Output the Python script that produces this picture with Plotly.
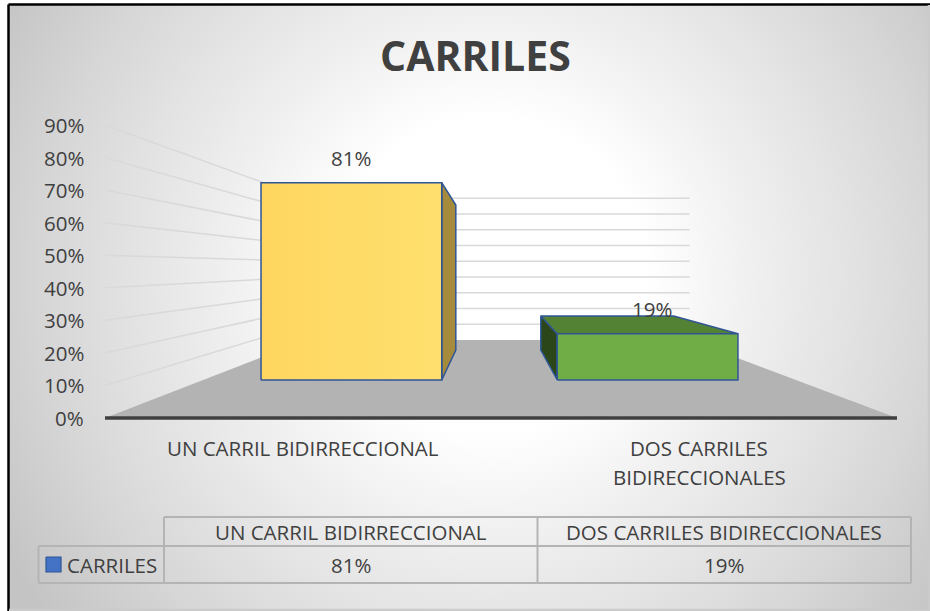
import base64
import plotly.graph_objects as go

# ---- data ----
categories = ["UN CARRIL BIDIRRECCIONAL", "DOS CARRILES BIDIRECCIONALES"]
axis_labels = ["UN CARRIL BIDIRRECCIONAL", "DOS CARRILES\nBIDIRECCIONALES"]
series_name = "CARRILES"
values = [0.81, 0.19]
tick_values = [0.0, 0.1, 0.2, 0.3, 0.4, 0.5, 0.6, 0.7, 0.8, 0.9]

# ---- canvas / perspective setup (pixel-space axes) ----
W, H = 930, 611
VX, VY = 495.0, 267.0          # vanishing point
FLOOR_LEFT, FLOOR_RIGHT = 105.0, 897.0
BASE_Y = 418.0                 # 0% on the front edge
UNIT = 325.6                   # pixels per 1.0 (100%) on the front plane
DEPTH_K = 1.066                # perspective shrink factor along depth
BAR_Z = (0.316, 0.767)         # bar depth span (0 = front, 1 = back wall)
BAR_FRAC = 0.61                # bar width / category width

TEXT = "#404040"
FONT = "Open Sans"
FS = 20.5
EDGE = "#2F5597"
FRONT_COLORS = ["#FFD966", "#70AD47"]
SIDE_COLORS = ["#A68B3D", "#2B4719"]
TOP_COLORS = ["#C9A74A", "#548235"]


def proj(x, v, z):
    f = 1.0 / (1.0 + DEPTH_K * z)
    return VX + (x - VX) * f, VY + ((BASE_Y - v * UNIT) - VY) * f


fig = go.Figure()


def poly(pts, fill, line_color=None, line_width=0.0, gradient=None):
    xs = [p[0] for p in pts] + [pts[0][0]]
    ys = [p[1] for p in pts] + [pts[0][1]]
    kw = dict(x=xs, y=ys, mode="lines", fill="toself",
              line=dict(color=line_color or fill, width=line_width),
              hoverinfo="skip", showlegend=False)
    if gradient is not None:
        kw["fillgradient"] = gradient
    else:
        kw["fillcolor"] = fill
    fig.add_trace(go.Scatter(**kw))


def segments(segs, color, width):
    xs, ys = [], []
    for (a, b) in segs:
        xs += [a[0], b[0], None]
        ys += [a[1], b[1], None]
    fig.add_trace(go.Scatter(x=xs, y=ys, mode="lines",
                             line=dict(color=color, width=width),
                             hoverinfo="skip", showlegend=False))


# chart area background: soft radial gradient inside the frame
bg_svg = (
    "<svg xmlns='http://www.w3.org/2000/svg' width='930' height='611'>"
    "<defs><radialGradient id='g' gradientUnits='userSpaceOnUse' "
    "cx='490' cy='275' r='560'>"
    "<stop offset='0' stop-color='#ffffff'/>"
    "<stop offset='0.28' stop-color='#ffffff'/>"
    "<stop offset='0.45' stop-color='#f1f1f1'/>"
    "<stop offset='0.65' stop-color='#e2e2e2'/>"
    "<stop offset='0.8' stop-color='#d6d6d6'/>"
    "<stop offset='1' stop-color='#c4c4c4'/>"
    "</radialGradient></defs>"
    "<rect x='8' y='4' width='922' height='607' fill='url(#g)'/></svg>"
)
bg_src = "data:image/svg+xml;base64," + base64.b64encode(bg_svg.encode()).decode()
fig.add_layout_image(source=bg_src, xref="paper", yref="paper", x=0, y=1,
                     sizex=1, sizey=1, xanchor="left", yanchor="top",
                     sizing="stretch", layer="below")
# frame: dark on the left and top, background-toned on the right and bottom
segments([((8.5, 4.5), (8.5, H)), ((8.5, 4.5), (W, 4.5))], "#000000", 2.5)
segments([((W - 1, 5), (W - 1, H)), ((9, H - 1), (W, H - 1))], "#cbcbcb", 2.5)

# gridlines on the side wall and the back wall
grid = []
for t in tick_values[1:]:
    grid.append((proj(FLOOR_LEFT, t, 0), proj(FLOOR_LEFT, t, 1)))
    grid.append((proj(FLOOR_LEFT, t, 1), proj(FLOOR_RIGHT, t, 1)))
segments(grid, "#d9d9d9", 1.5)

# floor
poly([proj(FLOOR_LEFT, 0, 0), proj(FLOOR_RIGHT, 0, 0),
      proj(FLOOR_RIGHT, 0, 1), proj(FLOOR_LEFT, 0, 1)], "#b3b3b3")
segments([(proj(FLOOR_LEFT, 0, 0), proj(FLOOR_RIGHT, 0, 0))], "#404040", 3.5)

# 3-D columns
cat_w = (FLOOR_RIGHT - FLOOR_LEFT) / len(categories)
bw = cat_w * BAR_FRAC
z0, z1 = BAR_Z
for i, v in enumerate(values):
    cx = FLOOR_LEFT + (i + 0.5) * cat_w
    x0, x1 = cx - bw / 2, cx + bw / 2
    if x1 < VX:
        poly([proj(x1, 0, z0), proj(x1, 0, z1), proj(x1, v, z1), proj(x1, v, z0)],
             SIDE_COLORS[i], EDGE, 1.5)
    if x0 > VX:
        poly([proj(x0, 0, z0), proj(x0, 0, z1), proj(x0, v, z1), proj(x0, v, z0)],
             SIDE_COLORS[i], EDGE, 1.5)
    if BASE_Y - v * UNIT > VY:
        poly([proj(x0, v, z0), proj(x1, v, z0), proj(x1, v, z1), proj(x0, v, z1)],
             TOP_COLORS[i], EDGE, 1.5)
    grad = None
    if i == 0:
        grad = dict(type="horizontal",
                    colorscale=[[0, "#FED660"], [1, "#FFE06E"]])
    poly([proj(x0, 0, z0), proj(x1, 0, z0), proj(x1, v, z0), proj(x0, v, z0)],
         FRONT_COLORS[i], EDGE, 1.5, gradient=grad)
    lx, ly = proj(cx, v, z0)
    fig.add_annotation(x=lx + 4 * i, y=ly - 25, text=f"{v:.0%}", showarrow=False,
                       xanchor="center", yanchor="middle",
                       font=dict(family=FONT, size=FS, color=TEXT))

# value axis labels
for t in tick_values:
    _, ty = proj(FLOOR_LEFT, t, 0)
    fig.add_annotation(x=86, y=ty, text=f"{t:.0%}", showarrow=False,
                       xanchor="right", yanchor="middle",
                       font=dict(family=FONT, size=FS, color=TEXT))

# category labels
for i, lab in enumerate(axis_labels):
    cx, _ = proj(FLOOR_LEFT + (i + 0.5) * cat_w, 0, 0)
    for j, line in enumerate(lab.split("\n")):
        fig.add_annotation(x=cx, y=448 + 29 * j, text=line, showarrow=False,
                           xanchor="center", yanchor="middle",
                           font=dict(family=FONT, size=FS, color=TEXT))

# title
fig.add_annotation(x=475, y=55, text="CARRILES", showarrow=False,
                   xanchor="center", yanchor="middle",
                   font=dict(family=FONT, size=41, color=TEXT, weight="bold"))

# data table
T_LEFT, T_KEY, T_RIGHT = 38.5, 164.0, 911.0
T_TOP, T_MID, T_BOT = 517.0, 546.0, 583.0
col_w = (T_RIGHT - T_KEY) / len(categories)
tbl = [((T_KEY, T_TOP), (T_RIGHT, T_TOP)),
       ((T_LEFT, T_MID), (T_RIGHT, T_MID)),
       ((T_LEFT, T_BOT), (T_RIGHT, T_BOT)),
       ((T_LEFT, T_MID), (T_LEFT, T_BOT))]
for k in range(len(categories) + 1):
    xk = T_KEY + k * col_w
    tbl.append(((xk, T_TOP), (xk, T_BOT)))
segments(tbl, "#b4b4b4", 2)

for k, (cat, v) in enumerate(zip(categories, values)):
    xc = T_KEY + (k + 0.5) * col_w
    fig.add_annotation(x=xc, y=(T_TOP + T_MID) / 2, text=cat, showarrow=False,
                       xanchor="center", yanchor="middle",
                       font=dict(family=FONT, size=FS, color=TEXT))
    fig.add_annotation(x=xc, y=(T_MID + T_BOT) / 2, text=f"{v:.0%}", showarrow=False,
                       xanchor="center", yanchor="middle",
                       font=dict(family=FONT, size=FS, color=TEXT))

# legend key inside the table
ky = (T_MID + T_BOT) / 2
poly([(46, ky - 7.5), (61, ky - 7.5), (61, ky + 7.5), (46, ky + 7.5)],
     "#4472C4", "#2F5597", 1.2)
fig.add_annotation(x=65, y=ky, text=series_name, showarrow=False,
                   xanchor="left", yanchor="middle",
                   font=dict(family=FONT, size=FS, color=TEXT))

fig.update_layout(
    width=W, height=H, autosize=False,
    margin=dict(l=0, r=0, t=0, b=0),
    paper_bgcolor="rgba(0,0,0,0)", plot_bgcolor="rgba(0,0,0,0)",
    xaxis=dict(range=[0, W], visible=False, fixedrange=True),
    yaxis=dict(range=[H, 0], visible=False, fixedrange=True),
    showlegend=False,
)

fig.write_html("out.html")
